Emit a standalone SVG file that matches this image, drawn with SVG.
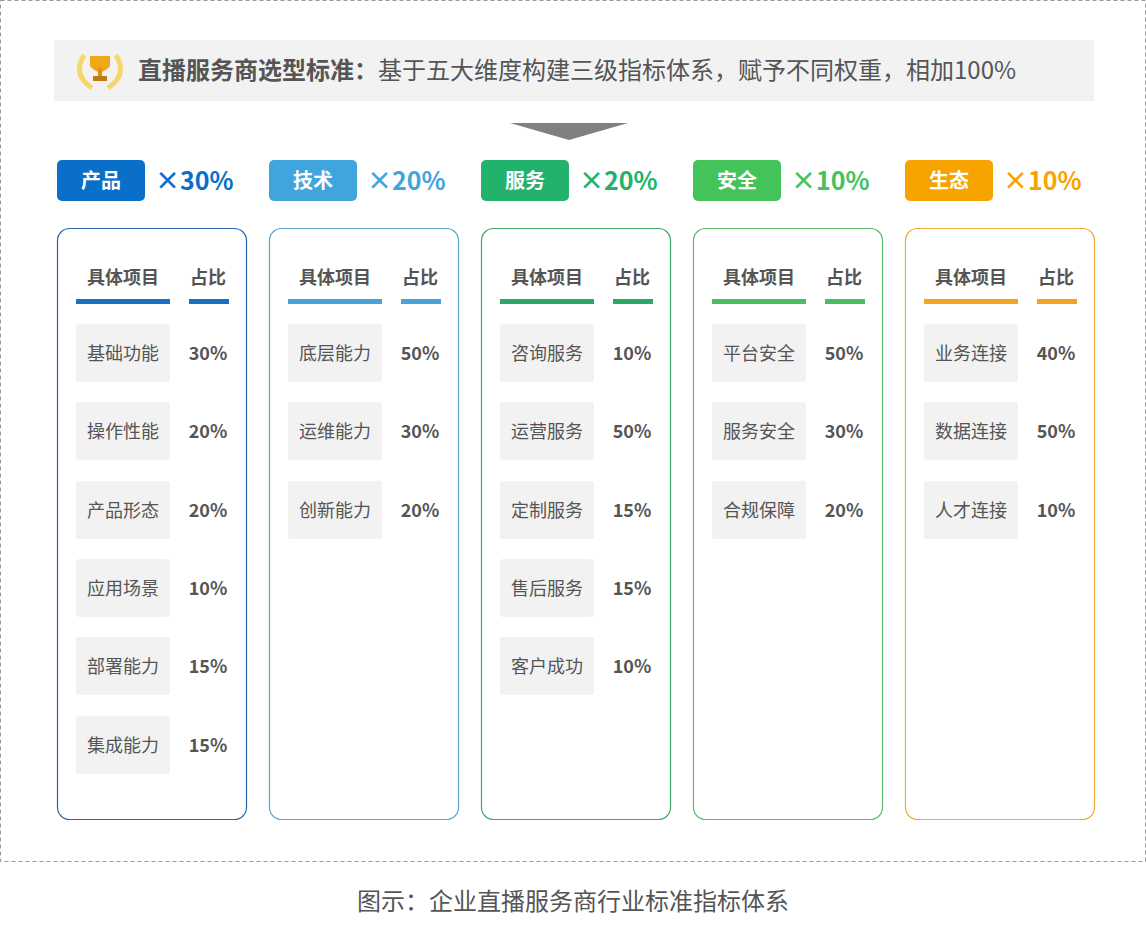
<svg xmlns="http://www.w3.org/2000/svg" width="1146" height="931" viewBox="0 0 1146 931">
<style>
text{font-family:"Noto Sans CJK SC","Noto Sans",sans-serif}
.card{fill:#fff;stroke-width:1.2}
.hd{font-size:18px;font-weight:bold;fill:#555;text-anchor:middle}
.it{fill:#f2f2f2}
.itt{font-size:18px;fill:#555;text-anchor:middle}
.pc{font-size:18px;font-weight:bold;fill:#555;text-anchor:middle}
.bt{font-size:20px;font-weight:bold;fill:#fff;text-anchor:middle}
.wt{font-size:25px;font-weight:bold}
</style>
<defs>
<g id="items"></g>
</defs>
<rect x="0.5" y="0.5" width="1145" height="861" fill="#fff" stroke="#999" stroke-dasharray="4,3"/>
<g id="banner">
<rect x="54" y="40" width="1040" height="61" fill="#f2f2f2"/>
<g id="trophy">
<path d="M84 55 Q72 75 92 88" fill="none" stroke="#f5d76e" stroke-width="5"/>
<path d="M116 55 Q128 75 108 88" fill="none" stroke="#f5d76e" stroke-width="5"/>
<path d="M90 56 h20 v10 q-10 12 -20 0z" fill="#f0a818"/>
<rect x="98" y="68" width="4" height="8" fill="#e09010"/>
<rect x="93" y="76" width="14" height="5" fill="#c07a10"/>
</g>
<text x="138" y="79" font-size="24" fill="#555"><tspan font-weight="bold">直播服务商选型标准：</tspan>基于五大维度构建三级指标体系，赋予不同权重，相加100%</text>
</g>
<polygon points="510,123 628,123 569,140" fill="#808080"/>
<g id="col1" transform="translate(57,0)">
<rect width="88" height="41" y="160" rx="5" fill="#0a6fc9"/><text class="bt" x="44" y="188">产品</text>
<text class="wt" x="98" y="190" fill="#0a6fc9">×30%</text>
<rect class="card" x="0.5" y="228.5" width="189" height="591" rx="12" stroke="#2a67a8"/>
<text class="hd" x="66" y="284">具体项目</text><text class="hd" x="151" y="284">占比</text>
<rect x="19" y="299" width="94" height="5" fill="#1a6fc0"/><rect x="132" y="299" width="40" height="5" fill="#1a6fc0"/>
<rect class="it" x="19" y="324" width="94" height="58" rx="3"/><text class="itt" x="66" y="360">基础功能</text><text class="pc" x="151" y="360">30%</text>
<rect class="it" x="19" y="402" width="94" height="58" rx="3"/><text class="itt" x="66" y="438">操作性能</text><text class="pc" x="151" y="438">20%</text>
<rect class="it" x="19" y="481" width="94" height="58" rx="3"/><text class="itt" x="66" y="517">产品形态</text><text class="pc" x="151" y="517">20%</text>
<rect class="it" x="19" y="559" width="94" height="58" rx="3"/><text class="itt" x="66" y="595">应用场景</text><text class="pc" x="151" y="595">10%</text>
<rect class="it" x="19" y="637" width="94" height="58" rx="3"/><text class="itt" x="66" y="673">部署能力</text><text class="pc" x="151" y="673">15%</text>
<rect class="it" x="19" y="716" width="94" height="58" rx="3"/><text class="itt" x="66" y="752">集成能力</text><text class="pc" x="151" y="752">15%</text>
</g>
<g id="col2" transform="translate(269,0)">
<rect width="88" height="41" y="160" rx="5" fill="#41a5dd"/><text class="bt" x="44" y="188">技术</text>
<text class="wt" x="98" y="190" fill="#41a5dd">×20%</text>
<rect class="card" x="0.5" y="228.5" width="189" height="591" rx="12" stroke="#5aa6cc"/>
<text class="hd" x="66" y="284">具体项目</text><text class="hd" x="151" y="284">占比</text>
<rect x="19" y="299" width="94" height="5" fill="#4aa3d6"/><rect x="132" y="299" width="40" height="5" fill="#4aa3d6"/>
<rect class="it" x="19" y="324" width="94" height="58" rx="3"/><text class="itt" x="66" y="360">底层能力</text><text class="pc" x="151" y="360">50%</text>
<rect class="it" x="19" y="402" width="94" height="58" rx="3"/><text class="itt" x="66" y="438">运维能力</text><text class="pc" x="151" y="438">30%</text>
<rect class="it" x="19" y="481" width="94" height="58" rx="3"/><text class="itt" x="66" y="517">创新能力</text><text class="pc" x="151" y="517">20%</text>
</g>
<g id="col3" transform="translate(481,0)">
<rect width="88" height="41" y="160" rx="5" fill="#22b26b"/><text class="bt" x="44" y="188">服务</text>
<text class="wt" x="98" y="190" fill="#22b26b">×20%</text>
<rect class="card" x="0.5" y="228.5" width="189" height="591" rx="12" stroke="#3fa66c"/>
<text class="hd" x="66" y="284">具体项目</text><text class="hd" x="151" y="284">占比</text>
<rect x="19" y="299" width="94" height="5" fill="#2aa865"/><rect x="132" y="299" width="40" height="5" fill="#2aa865"/>
<rect class="it" x="19" y="324" width="94" height="58" rx="3"/><text class="itt" x="66" y="360">咨询服务</text><text class="pc" x="151" y="360">10%</text>
<rect class="it" x="19" y="402" width="94" height="58" rx="3"/><text class="itt" x="66" y="438">运营服务</text><text class="pc" x="151" y="438">50%</text>
<rect class="it" x="19" y="481" width="94" height="58" rx="3"/><text class="itt" x="66" y="517">定制服务</text><text class="pc" x="151" y="517">15%</text>
<rect class="it" x="19" y="559" width="94" height="58" rx="3"/><text class="itt" x="66" y="595">售后服务</text><text class="pc" x="151" y="595">15%</text>
<rect class="it" x="19" y="637" width="94" height="58" rx="3"/><text class="itt" x="66" y="673">客户成功</text><text class="pc" x="151" y="673">10%</text>
</g>
<g id="col4" transform="translate(693,0)">
<rect width="88" height="41" y="160" rx="5" fill="#45c35b"/><text class="bt" x="44" y="188">安全</text>
<text class="wt" x="98" y="190" fill="#45c35b">×10%</text>
<rect class="card" x="0.5" y="228.5" width="189" height="591" rx="12" stroke="#5abb6a"/>
<text class="hd" x="66" y="284">具体项目</text><text class="hd" x="151" y="284">占比</text>
<rect x="19" y="299" width="94" height="5" fill="#4cbd60"/><rect x="132" y="299" width="40" height="5" fill="#4cbd60"/>
<rect class="it" x="19" y="324" width="94" height="58" rx="3"/><text class="itt" x="66" y="360">平台安全</text><text class="pc" x="151" y="360">50%</text>
<rect class="it" x="19" y="402" width="94" height="58" rx="3"/><text class="itt" x="66" y="438">服务安全</text><text class="pc" x="151" y="438">30%</text>
<rect class="it" x="19" y="481" width="94" height="58" rx="3"/><text class="itt" x="66" y="517">合规保障</text><text class="pc" x="151" y="517">20%</text>
</g>
<g id="col5" transform="translate(905,0)">
<rect width="88" height="41" y="160" rx="5" fill="#f7a400"/><text class="bt" x="44" y="188">生态</text>
<text class="wt" x="98" y="190" fill="#f7a400">×10%</text>
<rect class="card" x="0.5" y="228.5" width="189" height="591" rx="12" stroke="#eaa93a"/>
<text class="hd" x="66" y="284">具体项目</text><text class="hd" x="151" y="284">占比</text>
<rect x="19" y="299" width="94" height="5" fill="#f2a520"/><rect x="132" y="299" width="40" height="5" fill="#f2a520"/>
<rect class="it" x="19" y="324" width="94" height="58" rx="3"/><text class="itt" x="66" y="360">业务连接</text><text class="pc" x="151" y="360">40%</text>
<rect class="it" x="19" y="402" width="94" height="58" rx="3"/><text class="itt" x="66" y="438">数据连接</text><text class="pc" x="151" y="438">50%</text>
<rect class="it" x="19" y="481" width="94" height="58" rx="3"/><text class="itt" x="66" y="517">人才连接</text><text class="pc" x="151" y="517">10%</text>
</g>
<g id="connectors"></g>
<text x="573" y="910" font-size="24" fill="#555" text-anchor="middle">图示：企业直播服务商行业标准指标体系</text>
</svg>
